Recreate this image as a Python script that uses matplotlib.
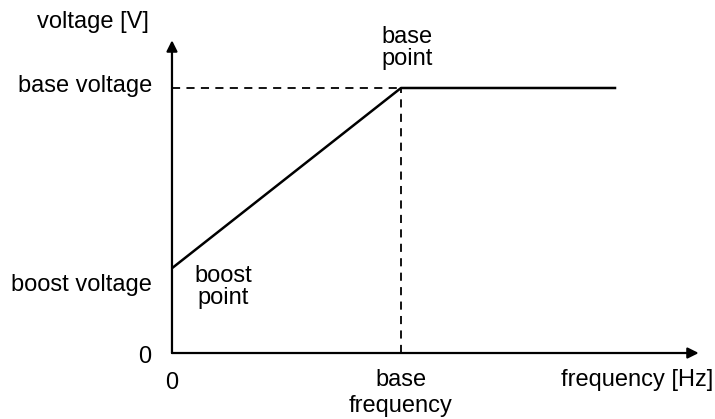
import matplotlib.pyplot as plt

plt.rcParams['font.family'] = ['Liberation Sans', 'DejaVu Sans']

# V/f curve (frequency in Hz, voltage relative to base voltage)
freq = [0, 50, 97]
volt = [0.32, 1.0, 1.0]
base_freq = 50
base_volt = 1.0
boost_volt = 0.32
x_axis_end = 115
y_axis_end = 1.18

fig = plt.figure(figsize=(7.15, 4.19), dpi=100)
ax = fig.add_axes([0, 0, 1, 1])
ax.set_xlim(-37.55, 118.56)
ax.set_ylim(-0.249, 1.332)
ax.axis('off')

# axes with arrow heads
arrow = dict(arrowstyle='-|>', lw=1.6, color='black', mutation_scale=16, shrinkA=0, shrinkB=0)
ax.annotate('', xy=(x_axis_end, 0), xytext=(0, 0), arrowprops=arrow)
ax.annotate('', xy=(0, y_axis_end), xytext=(0, 0), arrowprops=arrow)

# dashed guides to the base point
ax.plot([0, base_freq], [base_volt, base_volt], color='black', lw=1.3, ls=(0, (4.5, 3.5)))
ax.plot([base_freq, base_freq], [0, base_volt], color='black', lw=1.3, ls=(0, (4.5, 3.5)))

ax.plot(freq, volt, color='black', lw=1.8, solid_capstyle='butt')

# labels, one text per line, placed at their baselines
fs = 17
kw = dict(fontsize=fs, va='baseline')
ax.text(-17.25, 1.226, 'voltage [V]', ha='center', **kw)
ax.text(-4.4, 0.985, 'base voltage', ha='right', **kw)
ax.text(-4.4, 0.234, 'boost voltage', ha='right', **kw)
ax.text(-5.9, -0.038, '0', ha='center', **kw)
ax.text(0, -0.136, '0', ha='center', **kw)
ax.text(118.1, -0.125, 'frequency [Hz]', ha='right', **kw)
ax.text(base_freq, -0.123, 'base', ha='center', **kw)
ax.text(base_freq, -0.223, 'frequency', ha='center', **kw)
ax.text(11.1, 0.269, 'boost', ha='center', **kw)
ax.text(11.1, 0.185, 'point', ha='center', **kw)
ax.text(51.3, 1.171, 'base', ha='center', **kw)
ax.text(51.3, 1.087, 'point', ha='center', **kw)

fig.savefig('out.png', dpi=100)
